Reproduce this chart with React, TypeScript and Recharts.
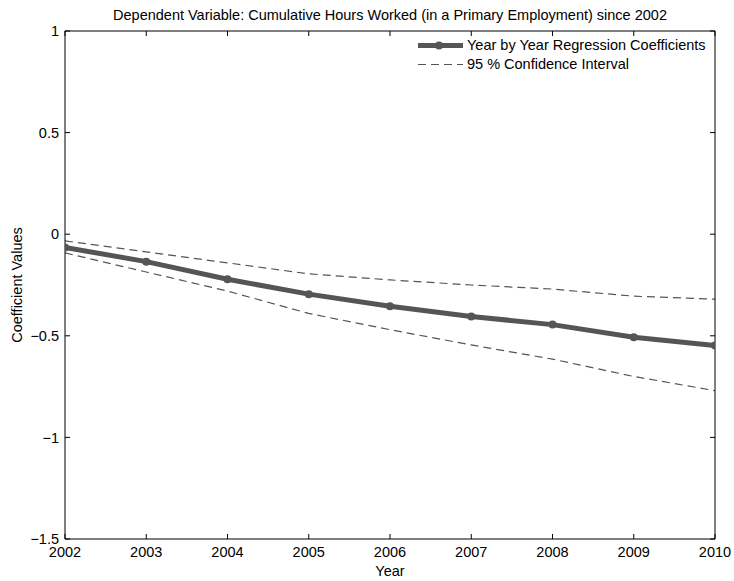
import React from "react";
import { LineChart, Line, XAxis, YAxis, Legend } from "recharts";

const FONT = '"Liberation Sans", Arial, Helvetica, sans-serif';
const GRAY = "#555555";
const FS = 14.5;

const years = [2002, 2003, 2004, 2005, 2006, 2007, 2008, 2009, 2010];
const coefficients = [-0.065, -0.135, -0.222, -0.295, -0.355, -0.405, -0.445, -0.507, -0.548];
const upperCI = [-0.033, -0.087, -0.141, -0.195, -0.225, -0.25, -0.27, -0.305, -0.32];
const lowerCI = [-0.092, -0.186, -0.28, -0.39, -0.47, -0.545, -0.615, -0.7, -0.77];
const yTicks = [-1.5, -1, -0.5, 0, 0.5, 1];

const data = years.map((year, i) => ({
  year,
  coef: coefficients[i],
  upper: upperCI[i],
  lower: lowerCI[i],
}));

const fmtY = (v: number) => String(v).replace("-", "\u2212");

const LegendBox = () => (
  <div style={{ fontFamily: FONT, fontSize: FS, lineHeight: "19px", color: "#000" }}>
    <div style={{ display: "flex", alignItems: "center", height: 19 }}>
      <svg width={45} height={19}>
        <line x1={0} y1={9.5} x2={45} y2={9.5} stroke={GRAY} strokeWidth={5} />
        <circle cx={21} cy={9.5} r={4} fill={GRAY} />
      </svg>
      <span style={{ marginLeft: 4, whiteSpace: "nowrap" }}>Year by Year Regression Coefficients</span>
    </div>
    <div style={{ display: "flex", alignItems: "center", height: 19 }}>
      <svg width={45} height={19}>
        <line x1={0} y1={9.5} x2={45} y2={9.5} stroke={GRAY} strokeWidth={1.2} strokeDasharray="8 5" />
      </svg>
      <span style={{ marginLeft: 4, whiteSpace: "nowrap" }}>95 % Confidence Interval</span>
    </div>
  </div>
);

export default function App() {
  return (
    <div style={{ position: "absolute", left: 0, top: 0, background: "#fff" }}>
      <LineChart
        width={734}
        height={581}
        data={data}
        margin={{ top: 0, right: 0, bottom: 0, left: 0 }}
        style={{ fontFamily: FONT }}
      >
        <XAxis
          dataKey="year"
          type="number"
          domain={[2002, 2010]}
          ticks={years}
          allowDataOverflow
          height={42}
          stroke="#000"
          tickSize={-5}
          tickMargin={13}
          tick={{ fill: "#000", fontSize: FS }}
          label={{ value: "Year", position: "insideBottom", offset: 5, fill: "#000", fontSize: FS }}
        />
        <XAxis
          xAxisId="top"
          dataKey="year"
          type="number"
          orientation="top"
          domain={[2002, 2010]}
          ticks={years}
          allowDataOverflow
          height={31}
          stroke="#000"
          tickSize={-5}
          tickFormatter={() => ""}
          label={{
            content: (p: any) => (
              <text
                x={p.viewBox.x + p.viewBox.width / 2}
                y={p.viewBox.y + 20}
                textAnchor="middle"
                fontSize={FS}
                fill="#000"
                fontFamily={FONT}
              >
                Dependent Variable: Cumulative Hours Worked (in a Primary Employment) since 2002
              </text>
            ),
          }}
        />
        <YAxis
          type="number"
          domain={[-1.5, 1]}
          ticks={yTicks}
          allowDataOverflow
          width={65}
          stroke="#000"
          tickSize={-5}
          tickMargin={11}
          tickFormatter={fmtY}
          tick={{ fill: "#000", fontSize: FS }}
          label={{
            content: (p: any) => (
              <text
                x={17}
                y={p.viewBox.y + p.viewBox.height / 2}
                transform={`rotate(-90, 17, ${p.viewBox.y + p.viewBox.height / 2})`}
                textAnchor="middle"
                dominantBaseline="central"
                fontSize={FS}
                fill="#000"
                fontFamily={FONT}
              >
                Coefficient Values
              </text>
            ),
          }}
        />
        <YAxis
          yAxisId="right"
          orientation="right"
          type="number"
          domain={[-1.5, 1]}
          ticks={yTicks}
          allowDataOverflow
          width={19}
          stroke="#000"
          tickSize={-5}
          tickFormatter={() => ""}
        />
        <Legend
          layout="vertical"
          align="center"
          verticalAlign="middle"
          wrapperStyle={{ left: 418, top: 36, width: 300, height: 40 }}
          content={() => <LegendBox />}
        />
        <Line
          dataKey="upper"
          stroke={GRAY}
          strokeWidth={1.2}
          strokeDasharray="8 5"
          dot={false}
          isAnimationActive={false}
          legendType="none"
        />
        <Line
          dataKey="lower"
          stroke={GRAY}
          strokeWidth={1.2}
          strokeDasharray="8 5"
          dot={false}
          isAnimationActive={false}
          legendType="none"
        />
        <Line
          dataKey="coef"
          stroke={GRAY}
          strokeWidth={5}
          dot={{ r: 4, fill: GRAY, stroke: GRAY, strokeWidth: 0 }}
          isAnimationActive={false}
        />
      </LineChart>
    </div>
  );
}
